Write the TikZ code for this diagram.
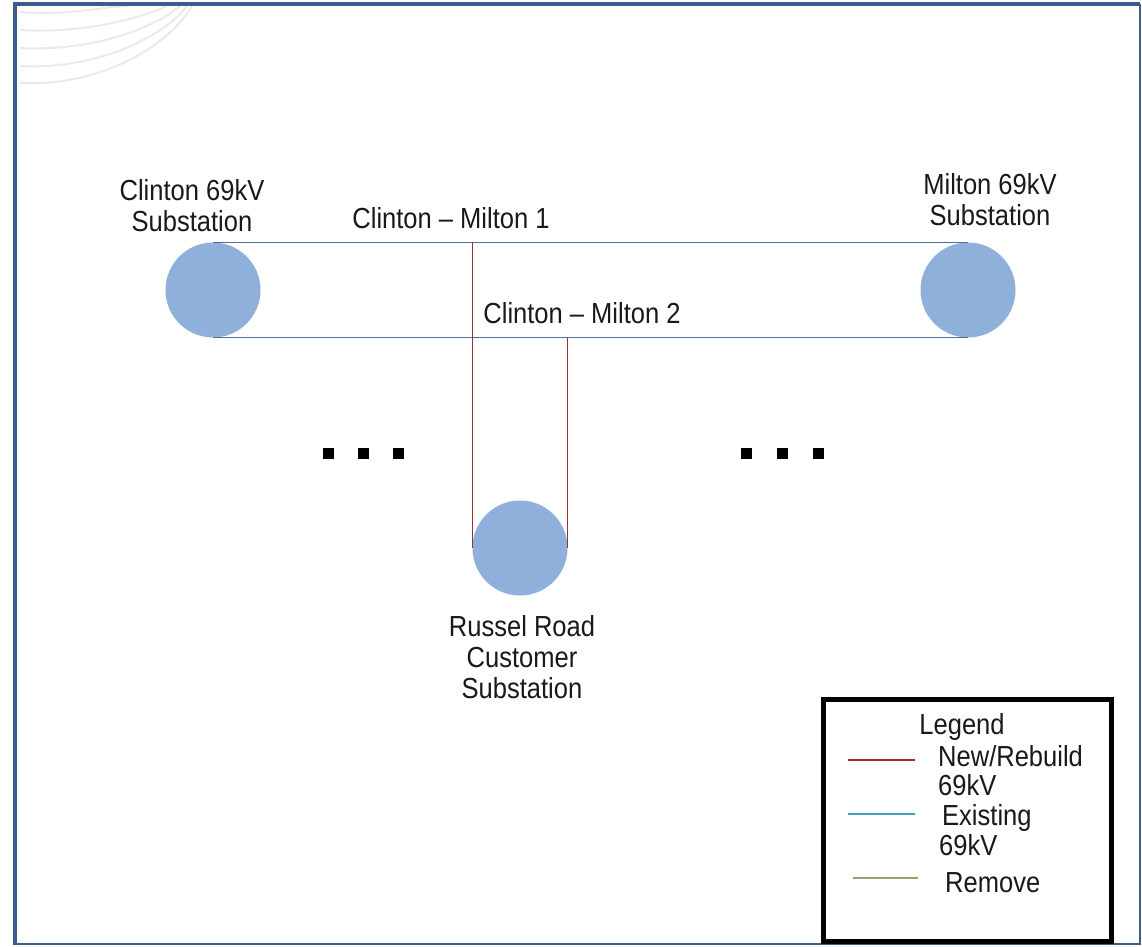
\documentclass[tikz,border=0pt]{standalone}
\usepackage{fontspec}
\setmainfont[FakeStretch=0.88]{Liberation Sans}
\definecolor{frameblue}{RGB}{62,92,138}
\definecolor{subfill}{RGB}{143,176,218}
\definecolor{lineblue}{RGB}{80,112,145}
\definecolor{linered}{RGB}{160,45,45}
\definecolor{legblue}{RGB}{60,160,190}
\definecolor{legolive}{RGB}{150,160,110}
\definecolor{txt}{RGB}{25,25,25}
\definecolor{arcgray}{RGB}{234,234,234}
\tikzset{
  sub/.style={circle, fill=subfill, draw=none, minimum size=95pt, inner sep=0pt},
  lbl/.style={text=txt, align=center, inner sep=0pt, font=\fontsize{29}{31}\selectfont},
  llbl/.style={lbl, align=left, anchor=west},
  existing/.style={draw=lineblue, line width=1.5pt},
  rebuild/.style={draw=linered, line width=1.5pt},
  dot/.style={fill=black, minimum size=11pt, inner sep=0pt, rectangle},
}
\begin{document}
\begin{tikzpicture}[x=1pt, y=-1pt]
\useasboundingbox (0,0) rectangle (1142,946);
\fill[white] (0,0) rectangle (1142,946);
% decorative arcs in the upper left corner
\foreach \ya/\xb in {12/127, 30/167, 48/180, 66/187, 83/192}
  \draw[arcgray, line width=2pt] (20,\ya) .. controls ({0.55*\xb},{\ya+4}) and ({\xb-20},{0.5*\ya}) .. (\xb,6);
% frame
\draw[frameblue, line width=3.5pt] (15,945) -- (15,4) -- (1140,4);
\draw[frameblue, line width=2pt] (1140,4) -- (1140,944) -- (15,944);

% substations
\node[sub] (clinton) at (213,290) {};
\node[sub] (milton) at (968,290) {};
\node[sub] (russel) at (520,548) {};

% existing 69kV circuits
\draw[existing] (clinton.north) -- (milton.north);
\draw[existing] (clinton.south) -- (milton.south);
% new taps to the customer substation
\draw[rebuild] (russel.west) -- (russel.west |- clinton.north);
\draw[rebuild] (russel.east) -- (russel.east |- clinton.south);

% labels
\node[lbl] (clintonlbl) at (192,206) {Clinton 69kV\\Substation};
\node[lbl] (miltonlbl) at (990,200) {Milton 69kV\\Substation};
\node[lbl] (cm1) at (451,218) {Clinton -- Milton 1};
\node[lbl] (cm2) at (582,313) {Clinton -- Milton 2};
\node[lbl] (russellbl) at (522,657) {Russel Road\\Customer\\Substation};

% continuation dots
\foreach \x [count=\i] in {328,363,398} \node[dot] (ldot\i) at (\x,453) {};
\foreach \x [count=\i] in {746,782,818} \node[dot] (rdot\i) at (\x,453) {};

% legend
\node[draw=black, line width=5pt, minimum width=288pt, minimum height=242pt, inner sep=0pt] (legend) at (967,820) {};
\node[lbl] (legtitle) at (962,727) {Legend};
\node[llbl, font=\fontsize{29}{29}\selectfont] (legnew) at (938,771) {New/Rebuild\\69kV};
\node[llbl, font=\fontsize{29}{30}\selectfont] (legex) at (942,830) {Existing\\\hspace*{-3pt}69kV};
\node[llbl] (legrm) at (945,883) {Remove};
\coordinate (ln1a) at (848,760); \coordinate (ln1b) at (915,760);
\coordinate (ln2a) at (848,814); \coordinate (ln2b) at (915,814);
\coordinate (ln3a) at (853,878); \coordinate (ln3b) at (918,878);
\draw[linered, line width=1.5pt] (ln1a) -- (ln1b);
\draw[legblue, line width=1.5pt] (ln2a) -- (ln2b);
\draw[legolive, line width=1.5pt] (ln3a) -- (ln3b);
\end{tikzpicture}
\end{document}
